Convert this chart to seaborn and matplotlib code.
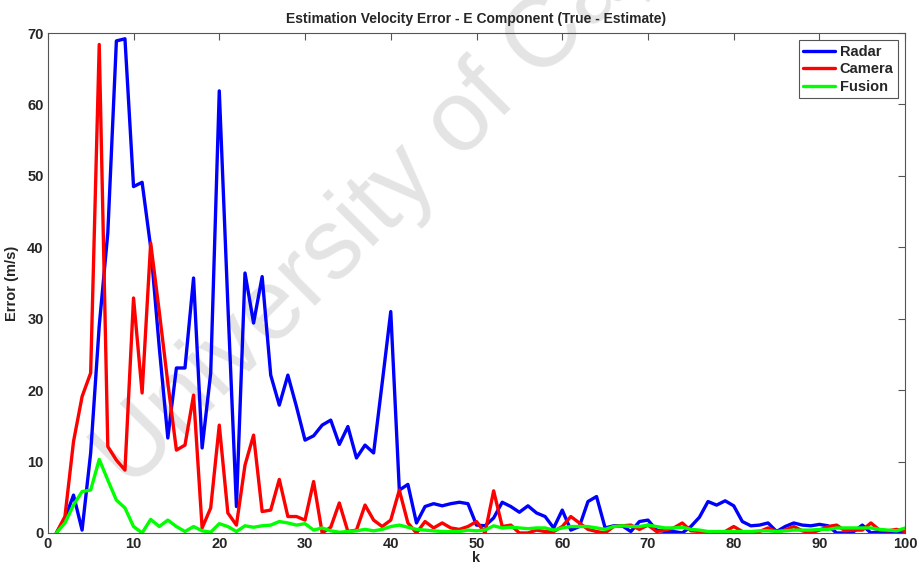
import pandas as pd
import numpy as np
import matplotlib
matplotlib.use("Agg")
import matplotlib.pyplot as plt
import seaborn as sns

sns.set_theme(style="white")
plt.rcParams['font.family'] = ['Liberation Sans', 'DejaVu Sans']

# Erro de velocidade (componente E) por passo k
k = list(range(1, 101))

radar = [0, 2.0, 5.3, 0.4, 11.2, 29, 42, 68.9, 69.2, 48.5,
         49.1, 40, 26, 13.3, 23.1, 23.1, 35.7, 11.9, 22.4, 61.9,
         32, 3.7, 36.4, 29.4, 35.9, 22.1, 17.9, 22.1, 17.7, 13.0,
         13.6, 15.1, 15.8, 12.4, 14.9, 10.5, 12.3, 11.2, 21, 31.0,
         6.0, 6.8, 1.4, 3.7, 4.1, 3.8, 4.1, 4.3, 4.1, 1.1,
         1.0, 2.1, 4.3, 3.7, 2.9, 3.8, 2.8, 2.3, 0.7, 3.2,
         0.4, 0.9, 4.4, 5.1, 0.7, 1.0, 1.0, 0.2, 1.6, 1.8,
         0.4, 0.2, 0.2, 0.0, 0.9, 2.2, 4.4, 3.9, 4.5, 3.8,
         1.6, 1.0, 1.1, 1.4, 0.2, 0.9, 1.4, 1.1, 1.0, 1.2,
         1.0, 0.0, 0.0, 0.2, 1.1, 0.0, 0.2, 0.0, 0.0, 0.2]

camera = [0, 2.3, 12.8, 19.1, 22.4, 68.4, 12.1, 10.2, 8.8, 32.9,
          19.6, 40.6, 31, 21, 11.6, 12.3, 19.3, 0.7, 3.5, 15.1,
          2.8, 1.1, 9.5, 13.7, 3.0, 3.2, 7.5, 2.3, 2.3, 1.8,
          7.2, 0.0, 0.8, 4.2, 0.2, 0.4, 3.9, 1.8, 0.9, 1.8,
          6.0, 1.4, 0.0, 1.6, 0.7, 1.4, 0.7, 0.5, 0.9, 1.6,
          0.0, 5.9, 0.9, 1.1, 0.0, 0.0, 0.4, 0.2, 0.2, 0.9,
          2.3, 1.4, 0.5, 0.2, 0.0, 0.9, 1.0, 1.1, 0.5, 1.1,
          0.2, 0.4, 0.7, 1.4, 0.3, 0.2, 0.0, 0.0, 0.2, 0.9,
          0.2, 0.0, 0.2, 0.7, 0.2, 0.4, 0.9, 0.3, 0.0, 0.4,
          0.9, 1.1, 0.3, 0.4, 0.4, 1.4, 0.4, 0.3, 0.5, 0.2]

fusion = [0, 1.4, 3.9, 5.8, 6.0, 10.3, 7.4, 4.6, 3.5, 0.9,
          0.0, 1.9, 0.9, 1.8, 0.9, 0.2, 0.9, 0.3, 0.1, 1.3,
          0.9, 0.2, 1.0, 0.8, 1.0, 1.1, 1.6, 1.4, 1.1, 1.3,
          0.4, 0.7, 0.3, 0.1, 0.2, 0.3, 0.5, 0.3, 0.5, 0.9,
          1.1, 0.8, 0.5, 0.4, 0.3, 0.2, 0.2, 0.2, 0.4, 0.3,
          0.4, 1.0, 0.7, 0.8, 0.7, 0.6, 0.7, 0.7, 0.4, 0.7,
          0.9, 0.9, 0.9, 0.7, 0.5, 0.9, 1.0, 0.9, 0.9, 1.1,
          0.9, 0.7, 0.7, 0.8, 0.5, 0.4, 0.2, 0.2, 0.2, 0.2,
          0.2, 0.2, 0.3, 0.3, 0.2, 0.3, 0.4, 0.4, 0.4, 0.5,
          0.5, 0.7, 0.7, 0.7, 0.7, 0.7, 0.5, 0.4, 0.3, 0.7]

sensores = ['Radar', 'Camera', 'Fusion']
cores = {'Radar': '#0000ff', 'Camera': '#ff0000', 'Fusion': '#00ff00'}

df = pd.DataFrame({
    'k': k * 3,
    'Erro': radar + camera + fusion,
    'Sensor': ['Radar'] * 100 + ['Camera'] * 100 + ['Fusion'] * 100,
})

fig = plt.figure(figsize=(9.19, 5.70), dpi=100)
ax = fig.add_axes([0.052, 0.065, 0.933, 0.877])
ax.set_zorder(2)
ax.patch.set_alpha(0)

# marca d'água (atrás das linhas)
fig.text(0.085, 0.15, 'University of Cape Town', fontsize=72, color='#e4e4e4',
         rotation=45, ha='left', va='baseline', zorder=0)

sns.lineplot(data=df, x='k', y='Erro', hue='Sensor', hue_order=sensores,
             palette=cores, linewidth=2.4, ax=ax)

ax.set_xlim(0, 100)
ax.set_ylim(0, 70)
ax.set_xticks(range(0, 101, 10))
ax.set_yticks(range(0, 71, 10))
ax.tick_params(direction='in', top=True, right=True, length=5, width=0.8,
               color='#555555', labelsize=10.5, pad=3)
for lbl in ax.get_xticklabels() + ax.get_yticklabels():
    lbl.set_fontweight('bold')
for s in ax.spines.values():
    s.set_color('#555555')
    s.set_linewidth(0.8)

ax.set_title('Estimation Velocity Error - E Component (True - Estimate)',
             fontsize=10, fontweight='bold', pad=7)
ax.set_xlabel('k', fontsize=10.5, fontweight='bold', labelpad=0)
ax.set_ylabel('Error (m/s)', fontsize=10.5, fontweight='bold', labelpad=6)

leg = ax.legend(loc='upper right', fancybox=False, framealpha=1,
                edgecolor='#555555', handlelength=2.2, handletextpad=0.3,
                borderpad=0.3, labelspacing=0.25, borderaxespad=0.5,
                prop={'weight': 'bold', 'size': 10.5})
leg.get_frame().set_linewidth(0.8)

plt.savefig('out.png', dpi=100)
